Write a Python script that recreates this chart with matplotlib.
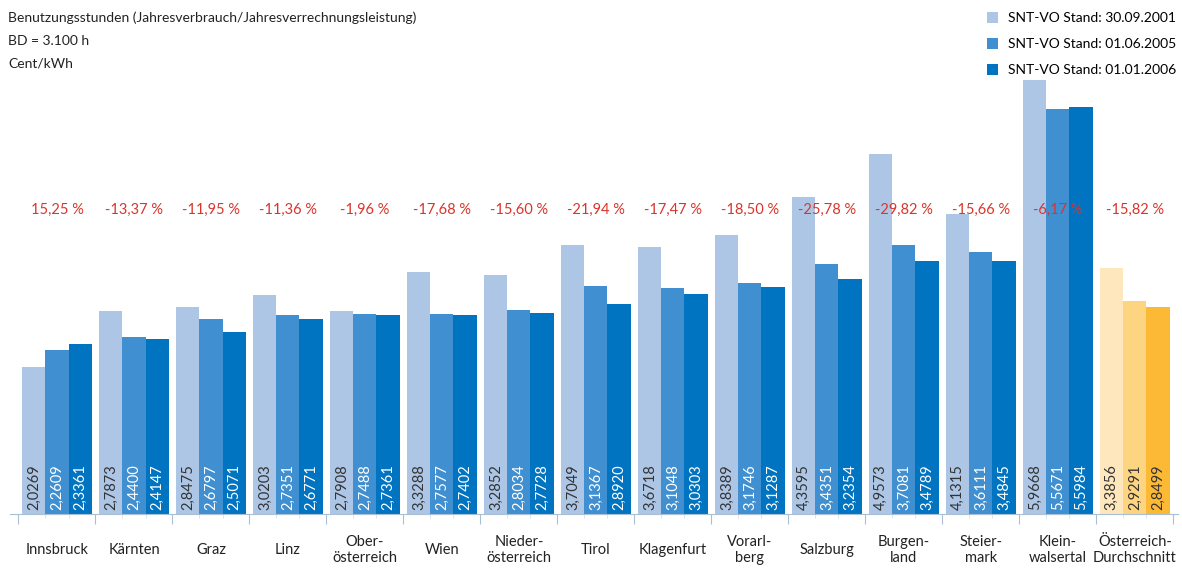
import numpy as np
import matplotlib
matplotlib.use("Agg")
import matplotlib.pyplot as plt

plt.rcParams['font.family'] = ['Lato', 'DejaVu Sans']

regions = ['Innsbruck', 'Kärnten', 'Graz', 'Linz', 'Ober-\nösterreich', 'Wien',
           'Nieder-\nösterreich', 'Tirol', 'Klagenfurt', 'Vorarl-\nberg', 'Salzburg',
           'Burgen-\nland', 'Steier-\nmark', 'Klein-\nwalsertal', 'Österreich-\nDurchschnitt']
stand_2001 = [2.0269, 2.7873, 2.8475, 3.0203, 2.7908, 3.3288, 3.2852, 3.7049, 3.6718,
              3.8389, 4.3595, 4.9573, 4.1315, 5.9668, 3.3856]
stand_2005 = [2.2609, 2.4400, 2.6797, 2.7351, 2.7488, 2.7577, 2.8034, 3.1367, 3.1048,
              3.1746, 3.4351, 3.7081, 3.6111, 5.5671, 2.9291]
stand_2006 = [2.3361, 2.4147, 2.5071, 2.6771, 2.7361, 2.7402, 2.7728, 2.8920, 3.0303,
              3.1287, 3.2354, 3.4789, 3.4845, 5.5984, 2.8499]
changes = ['15,25 %', '-13,37 %', '-11,95 %', '-11,36 %', '-1,96 %', '-17,68 %', '-15,60 %',
           '-21,94 %', '-17,47 %', '-18,50 %', '-25,78 %', '-29,82 %', '-15,66 %', '-6,17 %',
           '-15,82 %']
series_names = ['SNT-VO Stand: 30.09.2001', 'SNT-VO Stand: 01.06.2005', 'SNT-VO Stand: 01.01.2006']

blues = ['#adc6e6', '#3f8fd1', '#0073c1']
oranges = ['#fee7bd', '#fdd581', '#fbb935']
text_cols = ['#333333', 'white', 'white']

fig = plt.figure(figsize=(11.82, 5.70), dpi=100)
ax = fig.add_axes([10/1182, 1-514/570, 1168/1182, (514-78)/570])

x = np.arange(len(regions))
w = 0.3
series = [stand_2001, stand_2005, stand_2006]
n = len(regions)
for k, vals in enumerate(series):
    cols = [blues[k]] * (n - 1) + [oranges[k]]
    xs = x + (k - 1) * w
    ax.bar(xs, vals, width=w, color=cols, edgecolor='none', label=series_names[k])
    for i, v in enumerate(vals):
        tc = text_cols[k] if i < n - 1 else '#333333'
        ax.text(xs[i], 0.05, f'{v:.4f}'.replace('.', ','), rotation=90, ha='center',
                va='bottom', color=tc, fontsize=10.5)

for i, c in enumerate(changes):
    ax.text(x[i], 4.18, c, ha='center', va='center', color='#d9352c', fontsize=10.5)

ax.set_xlim(-0.61, 14.56)
ax.set_ylim(0, 6.0)
for s in ['top', 'right', 'left']:
    ax.spines[s].set_visible(False)
ax.spines['bottom'].set_color('#a9bfd6')
ax.set_yticks([])
ax.set_xticks(np.arange(-0.5, n, 1.0))
ax.set_xticklabels([])
ax.tick_params(axis='x', length=7, color='#a9bfd6')
ax.set_xticks(np.concatenate([x - 0.15, x + 0.15]), minor=True)
ax.tick_params(axis='x', which='minor', length=3, color='#d5e0ec')
for i, r in enumerate(regions):
    ax.text(x[i], -0.49, r, ha='center', va='center', fontsize=10.5, color='#222222',
            linespacing=1.2)

fig.text(8/1182, 1-18/570, 'Benutzungsstunden (Jahresverbrauch/Jahresverrechnungsleistung)',
         fontsize=10, va='center', color='#222222')
fig.text(8/1182, 1-41/570, 'BD = 3.100 h', fontsize=10, va='center', color='#222222')
fig.text(8/1182, 1-64/570, 'Cent/kWh', fontsize=10, va='center', color='#222222')

ax.legend(loc='upper right', bbox_to_anchor=(1180/1182, 1-8/570), bbox_transform=fig.transFigure,
          frameon=False, fontsize=10, handlelength=0.8, handleheight=0.8,
          labelspacing=1.0, handletextpad=0.7, borderaxespad=0, borderpad=0.3)

fig.savefig('out.png', dpi=100)
